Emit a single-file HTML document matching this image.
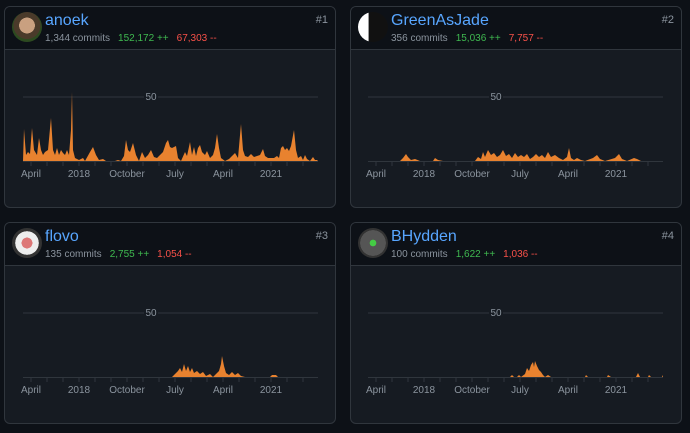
<!DOCTYPE html>
<html><head><meta charset="utf-8"><style>
body{margin:0;width:690px;height:433px;background:#0d1117;font-family:"Liberation Sans",sans-serif;overflow:hidden;position:relative}
.card{position:absolute;width:332px;height:202px;background:#161b22;border:1px solid #30363d;border-radius:6px;box-sizing:border-box;overflow:hidden}
.hd{position:absolute;left:0;top:0;right:0;height:42px;background:#0d1117;border-bottom:1px solid #30363d}
.av{position:absolute;left:7px;top:5px;width:30px;height:30px;border-radius:50%}
.nm{position:absolute;left:40px;top:5px;font-size:16px;color:#58a6ff}
.st{position:absolute;left:40px;top:26px;font-size:10px;color:#8b949e;white-space:nowrap}
.g{color:#3fb950;margin-left:8px}.r{color:#f85149;margin-left:8px}
.rk{position:absolute;right:7px;top:7px;font-size:11px;color:#8b949e}
svg{position:absolute;left:0;top:0}
</style></head><body>
<div class="card" style="left:4px;top:6px"><div class="hd"><div class="av" style="background:radial-gradient(circle at 50% 45%,#c9a080 0 35%,#4a3a2a 36% 60%,#2d4a20 61%)"></div><div class="nm">anoek</div><div class="st">1,344 commits<span class="g">152,172 ++</span><span class="r">67,303 --</span></div><div class="rk">#1</div></div></div>
<div class="card" style="left:350px;top:6px"><div class="hd"><div class="av" style="background:linear-gradient(90deg,#fff 0 35%,#111 36%)"></div><div class="nm">GreenAsJade</div><div class="st">356 commits<span class="g">15,036 ++</span><span class="r">7,757 --</span></div><div class="rk">#2</div></div></div>
<div class="card" style="left:4px;top:222px"><div class="hd"><div class="av" style="background:radial-gradient(circle,#d77 0 25%,#eee 26% 55%,#333 56%)"></div><div class="nm">flovo</div><div class="st">135 commits<span class="g">2,755 ++</span><span class="r">1,054 --</span></div><div class="rk">#3</div></div></div>
<div class="card" style="left:350px;top:222px"><div class="hd"><div class="av" style="background:radial-gradient(circle,#4c4 0 15%,#555 16% 60%,#333 61%)"></div><div class="nm">BHydden</div><div class="st">100 commits<span class="g">1,622 ++</span><span class="r">1,036 --</span></div><div class="rk">#4</div></div></div>
<svg width="690" height="433" font-family="Liberation Sans, sans-serif" font-size="10" fill="#8b949e">
<defs>
<g id="ax">
<line x1="23" y1="97" x2="318" y2="97" stroke="#30363d"/>
<rect x="144" y="90" width="14" height="12" fill="#161b22"/>
<text x="151" y="100" text-anchor="middle" fill="#8b949e">50</text>
<line x1="23" y1="161.5" x2="318" y2="161.5" stroke="#30363d"/>
<path d="M31,161v5M47,161v5M63,161v5M79,161v5M95,161v5M111,161v5M127,161v5M143,161v5M159,161v5M175,161v5M191,161v5M207,161v5M223,161v5M239,161v5M255,161v5M271,161v5M287,161v5M303,161v5" stroke="#30363d"/>
<g text-anchor="middle" fill="#8b949e"><text x="31" y="177">April</text><text x="79" y="177">2018</text><text x="127" y="177">October</text><text x="175" y="177">July</text><text x="223" y="177">April</text><text x="271" y="177">2021</text></g>
</g>
</defs>
<use href="#ax"/><use href="#ax" transform="translate(345,0)"/><use href="#ax" transform="translate(0,216)"/><use href="#ax" transform="translate(345,216)"/>
<g fill="#e8822f">
<path d="M23,161 L24,129 L26,155 L28,152 L30,154 L32,128 L34,150 L37,155 L39,138 L41,150 L43,155 L45,152 L48,150 L51,118 L53,150 L55,155 L57,148 L59,155 L61,150 L63,153 L65,155 L67,150 L69,155 L71,130 L72,92 L73,150 L75,158 L79,160 L83,158 L85,161 L90,152 L93,147 L96,155 L99,160 L103,159 L106,161 L115,161 L118,160 L121,161 L124,156 L126,140 L128,150 L130,152 L133,143 L136,155 L139,161 L142,152 L145,158 L148,155 L151,150 L154,157 L157,158 L160,155 L163,152 L166,143 L168,140 L170,147 L172,148 L174,147 L176,146 L178,158 L181,161 L185,152 L187,156 L190,142 L192,155 L194,147 L196,156 L198,148 L200,145 L202,152 L205,155 L207,151 L210,158 L213,155 L215,148 L217,134 L219,148 L221,158 L225,161 L229,159 L232,156 L235,153 L238,158 L241,124 L243,150 L245,156 L248,157 L251,154 L254,157 L257,156 L260,155 L263,149 L265,156 L268,158 L271,158 L274,158 L277,156 L279,158 L281,148 L283,146 L285,150 L287,148 L289,151 L291,146 L294,130 L296,150 L298,158 L301,156 L303,160 L305,155 L307,159 L310,161 L313,157 L315,160 L317,160 L318,161 Z"/>
<path transform="translate(345,0)" d="M23,161 L55,161 L58,158 L61,154 L63,157 L66,160 L70,159 L75,161 L88,161 L90,158 L93,160 L98,161 L130,161 L133,157 L136,159 L138,152 L140,157 L143,150 L146,155 L149,153 L152,157 L155,155 L158,150 L161,156 L164,154 L167,158 L170,153 L173,157 L176,155 L179,157 L182,154 L185,159 L188,157 L191,154 L194,157 L197,155 L200,158 L203,152 L206,157 L210,155 L214,158 L218,160 L222,157 L224,148 L226,158 L229,160 L232,158 L236,160 L240,161 L248,158 L252,155 L255,159 L260,161 L270,158 L274,154 L277,159 L282,161 L289,158 L292,159 L296,161 L318,161 Z"/>
<path transform="translate(0,216)" d="M23,161 L172,161 L175,158 L178,155 L180,152 L182,156 L184,148 L186,155 L188,150 L190,156 L192,152 L194,157 L197,155 L200,158 L203,156 L206,160 L210,158 L213,161 L216,158 L219,155 L221,148 L222,140 L224,150 L226,157 L229,159 L232,156 L235,159 L238,157 L241,160 L245,161 L270,161 L272,159 L276,159 L278,161 L318,161 Z"/>
<path transform="translate(345,216)" d="M23,161 L165,161 L167,159 L169,161 L172,161 L174,159 L176,161 L180,158 L182,152 L184,155 L186,149 L188,146 L189,151 L190,145 L192,150 L194,154 L196,156 L198,159 L200,161 L203,159 L206,161 L240,161 L241,159 L243,161 L262,161 L263,159 L266,161 L291,161 L293,157 L295,161 L303,161 L304,159 L306,161 L317,161 L318,159 L318,161 Z"/>
</g>
</svg>
</body></html>
